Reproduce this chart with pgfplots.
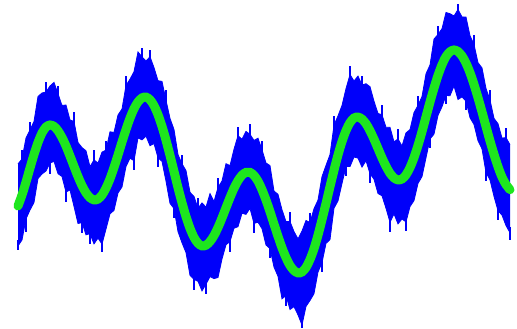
\documentclass[border=0pt]{standalone}
\usepackage{pgfplots}
\usepackage{pgfplotstable}
\pgfplotsset{compat=1.18}
\usepgfplotslibrary{fillbetween}
\definecolor{sigblue}{RGB}{0,0,250}
\definecolor{siggreen}{RGB}{30,230,30}
\pgfplotstableread{
x g up lo
18 206 164 246
22 195 159 240
26 182 138 219
30 168 130 210
34 154.5 121.5 202.5
38 142.5 96.5 178.5
42 133 93 174
46 127 92 171
50 125 86 163
54 126.4 82.4 161.4
58 130.7 93.7 173.7
62 137.5 105.5 176.5
66 146 105 192
70 156 120 190
74 166.4 121.4 206.4
78 176.5 142.5 223.5
82 185.6 147.6 222.6
86 192.8 150.8 234.8
90 197.7 166.7 233.7
94 199.9 159.9 243.9
98 199.1 163.1 238.1
102 195.1 152.1 244.1
106 188.1 150.1 229.1
110 178.8 131.8 213.8
114 167.4 132.4 210.4
118 155 115 193
122 142 109 187
126 129.5 85.5 166.5
130 118.2 79.2 158.2
134 108.7 71.7 160.7
138 101.9 51.9 137.9
142 97.9 56.9 139.9
146 97.1 61.1 136.1
150 99.7 56.7 145.7
154 105.6 67.6 143.6
158 114.7 80.7 157.7
162 126.4 81.4 161.4
166 140.2 100.2 181.2
170 155.4 118.4 203.4
174 171.5 129.5 208.5
178 187.6 154.6 231.6
182 202.8 163.8 242.8
186 216.6 170.6 252.6
190 228.3 192.3 275.3
194 237.4 196.4 279.4
198 243.3 208.3 281.3
202 245.9 202.9 290.9
206 245.2 207.2 284.2
210 241.6 193.6 276.6
214 235.6 201.6 278.6
218 227.5 187.5 277.5
222 218 181 259
226 207.7 163.7 244.7
230 197.6 165.6 241.6
234 188.2 149.2 228.2
238 180.7 135.7 226.7
242 175.2 139.2 213.2
246 172.4 131.4 214.4
250 172.4 134.4 208.4
254 175.4 140.4 223.4
258 181.2 138.2 222.2
262 189.7 149.7 228.7
266 200 163 245
270 211.6 165.6 248.6
274 224.1 191.1 267.1
278 236.3 194.3 276.3
282 247.8 209.8 298.8
286 257.6 221.6 295.6
290 265.5 221.5 309.5
294 270.6 231.6 306.6
298 272.9 238.9 314.9
302 272 231 325
306 267.5 220.5 306.5
310 259.5 222.5 300.5
314 248.7 208.7 293.7
318 235.1 200.1 272.1
322 219.6 176.6 262.6
326 203.4 165.4 243.4
330 186.6 154.6 239.6
334 170.2 125.2 208.2
338 154.9 115.9 200.9
342 141.5 105.5 183.5
346 130.6 88.6 166.6
350 122.6 74.6 166.6
354 118 81 157
358 117.1 76.1 158.1
362 119.1 85.1 167.1
366 123.7 83.7 160.7
370 130.7 86.7 173.7
374 139.2 101.2 179.2
378 148.5 113.5 193.5
382 157.8 114.8 195.8
386 166.3 127.3 208.3
390 173.3 127.3 222.3
394 177.9 141.9 213.9
398 179.9 138.9 223.9
402 179 146 219
406 174.9 132.9 221.9
410 167.6 129.6 206.6
414 157.6 112.6 200.6
418 145.4 105.4 183.4
422 131.6 96.6 176.6
426 116.8 73.8 157.8
430 102 65 139
434 88.1 39.1 134.1
438 75.4 34.4 115.4
442 64.7 28.7 106.7
446 56.5 12.5 95.5
450 51.7 13.7 95.7
454 50 16 86
458 51.5 9.5 99.5
462 55.9 16.9 96.9
466 63.1 17.1 101.1
470 72.7 35.7 117.7
474 84.5 44.5 124.5
478 97.7 62.7 140.7
482 111.9 67.9 148.9
486 126.5 88.5 172.5
490 140.9 99.9 179.9
494 154.4 118.4 196.4
498 166.7 123.7 210.7
502 177.1 138.1 215.1
506 184.6 137.6 225.6
510 189.7 144.7 232.7
}\sig
\pgfplotstableread{
x y
22 165
22 150
nan nan
30 136
30 122
nan nan
46 98
46 82
nan nan
58 100
58 86
nan nan
74 128
74 112
nan nan
94 166
94 150
nan nan
106 156
106 141
nan nan
126 92
126 76
nan nan
142 63
142 48
nan nan
150 63
150 50
nan nan
166 106
166 90
nan nan
182 170
182 155
nan nan
198 214
198 198
nan nan
218 194
218 178
nan nan
238 142
238 127
nan nan
250 140
250 124
nan nan
262 156
262 141
nan nan
290 228
290 212
nan nan
310 228
310 213
nan nan
334 131
334 116
nan nan
350 81
350 66
nan nan
362 91
362 76
nan nan
382 121
382 105
nan nan
398 145
398 129
nan nan
418 111
418 96
nan nan
438 40
438 26
nan nan
458 15
458 4
nan nan
474 50
474 35
nan nan
490 106
490 90
nan nan
506 143
506 128
nan nan
18 240
18 250
nan nan
26 213
26 232
nan nan
50 157
50 174
nan nan
66 186
66 202
nan nan
82 217
82 233
nan nan
90 228
90 244
nan nan
102 238
102 252
nan nan
134 155
134 170
nan nan
158 152
158 167
nan nan
174 203
174 218
nan nan
194 273
194 290
nan nan
206 278
206 294
nan nan
230 236
230 252
nan nan
254 217
254 233
nan nan
270 243
270 258
nan nan
286 290
286 306
nan nan
302 318
302 328
nan nan
322 257
322 272
nan nan
346 161
346 176
nan nan
370 168
370 183
nan nan
390 216
390 232
nan nan
406 216
406 231
nan nan
430 133
430 148
nan nan
446 90
446 104
nan nan
466 95
466 110
nan nan
486 166
486 181
nan nan
498 205
498 220
nan nan
510 227
510 240
}\spikes
\begin{document}
\begin{tikzpicture}
\begin{axis}[
  width=517pt, height=329pt, scale only axis,
  xmin=0, xmax=517, ymin=0, ymax=329, y dir=reverse,
  axis line style={draw=none}, ticks=none, unbounded coords=jump]
\addplot[name path=U, sigblue, line width=0.8pt] table[x=x,y=up]{\sig};
\addplot[name path=L, sigblue, line width=0.8pt] table[x=x,y=lo]{\sig};
\addplot[sigblue] fill between[of=U and L];
\addplot[sigblue, line width=1.6pt] table[x=x,y=y]{\spikes};
\addplot[siggreen, line width=9pt, line cap=round, smooth] table[x=x,y=g]{\sig};
\end{axis}
\end{tikzpicture}
\end{document}
